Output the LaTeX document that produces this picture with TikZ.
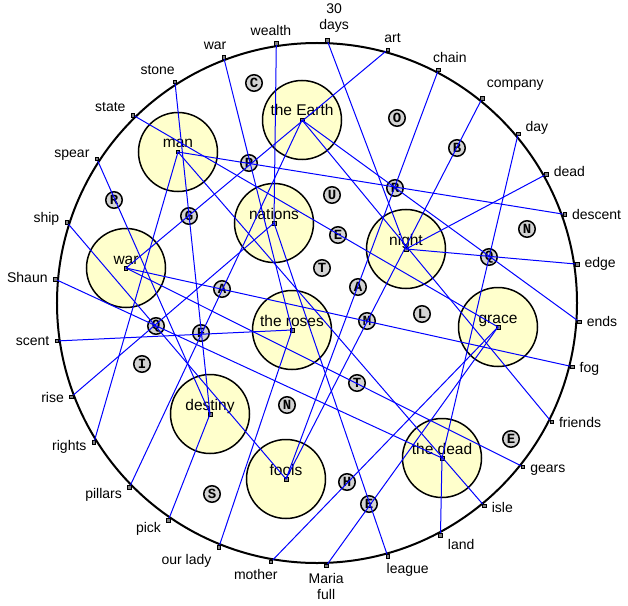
\documentclass[tikz,border=0pt]{standalone}
\usepackage{fontspec}
\setmainfont{Liberation Sans}
\newfontfamily\chipfont{Liberation Mono}
\usetikzlibrary{positioning}

\definecolor{paleyellow}{RGB}{255,255,204}
\definecolor{chipgray}{RGB}{211,211,211}

\begin{document}
\begin{tikzpicture}[
        x=1pt, y=1pt,
        rim/.style = {draw, black, circle, line width=2pt, minimum size=520pt, inner sep=0pt},
        topic/.style = {draw, black, fill=paleyellow, circle, line width=1.5pt, minimum size=79pt, inner sep=0pt},
        topictext/.style = {anchor=base, yshift=4pt, inner sep=0pt, font=\fontsize{15.5}{18}\selectfont},
        chip/.style = {draw, black, fill=chipgray, circle, line width=1.5pt, minimum size=16.5pt, inner sep=0pt, font=\chipfont\bfseries\fontsize{14}{14}\selectfont},
        pin/.style = {draw, black, fill=gray, line width=0.5pt, minimum size=3.5pt, inner sep=0pt},
        word/.style = {align=center, inner sep=1pt, outer sep=6.5pt, font=\fontsize{14}{16}\selectfont},
        link/.style = {blue, line width=1pt}
    ]

        \useasboundingbox (-317,-302) rectangle (311,303);

        \node[rim] (hub) at (0,0) {};

        \node[pin] (o-wealth) at (98.9:263) {};
        \node[pin] (o-war) at (110.8:263) {};
        \node[pin] (o-stone) at (122.7:263) {};
        \node[pin] (o-state) at (134.4:263) {};
        \node[pin] (o-spear) at (146.8:263) {};
        \node[pin] (o-ship) at (162.1:263) {};
        \node[pin] (o-shaun) at (174.8:263) {};
        \node[pin] (o-scent) at (188.3:263) {};
        \node[pin] (o-rise) at (200.9:263) {};
        \node[pin] (o-rights) at (212.0:263) {};
        \node[pin] (o-pillars) at (224.5:263) {};
        \node[pin] (o-pick) at (235.6:263) {};
        \node[pin] (o-ourlady) at (248.1:263) {};
        \node[pin] (o-mother) at (259.9:263) {};
        \node[pin] (o-maria) at (272.0:263) {};
        \node[pin] (o-league) at (285.6:263) {};
        \node[pin] (o-land) at (298.0:263) {};
        \node[pin] (o-isle) at (309.5:263) {};
        \node[pin] (o-gears) at (321.5:263) {};
        \node[pin] (o-friends) at (333.1:263) {};
        \node[pin] (o-fog) at (346.0:263) {};
        \node[pin] (o-ends) at (355.9:263) {};
        \node[pin] (o-edge) at (8.5:263) {};
        \node[pin] (o-descent) at (19.7:263) {};
        \node[pin] (o-dead) at (29.3:263) {};
        \node[pin] (o-day) at (40.1:263) {};
        \node[pin] (o-company) at (51.1:263) {};
        \node[pin] (o-chain) at (62.5:263) {};
        \node[pin] (o-art) at (74.4:263) {};
        \node[pin] (o-days) at (87.8:263) {};

        \node[word, anchor=293] (w-wealth) at (o-wealth.center) {wealth};
        \node[word, anchor=307] (w-war) at (o-war.center) {war};
        \node[word, anchor=325] (w-stone) at (o-stone.center) {stone};
        \node[word, anchor=340] (w-state) at (o-state.center) {state};
        \node[word, anchor=351] (w-spear) at (o-spear.center) {spear};
        \node[word, anchor=352] (w-ship) at (o-ship.center) {ship};
        \node[word, anchor=356] (w-shaun) at (o-shaun.center) {Shaun};
        \node[word, anchor=0] (w-scent) at (o-scent.center) {scent};
        \node[word, anchor=3] (w-rise) at (o-rise.center) {rise};
        \node[word, anchor=10] (w-rights) at (o-rights.center) {rights};
        \node[word, anchor=17] (w-pillars) at (o-pillars.center) {pillars};
        \node[word, anchor=25] (w-pick) at (o-pick.center) {pick};
        \node[word, anchor=23] (w-ourlady) at (o-ourlady.center) {our lady};
        \node[word, anchor=40] (w-mother) at (o-mother.center) {mother};
        \node[word, anchor=north] (w-maria) at (o-maria.center) {Maria\\full};
        \node[word, anchor=145] (w-league) at (o-league.center) {league};
        \node[word, anchor=157] (w-land) at (o-land.center) {land};
        \node[word, anchor=174] (w-isle) at (o-isle.center) {isle};
        \node[word, anchor=173] (w-gears) at (o-gears.center) {gears};
        \node[word, anchor=178] (w-friends) at (o-friends.center) {friends};
        \node[word, anchor=173] (w-fog) at (o-fog.center) {fog};
        \node[word, anchor=180] (w-ends) at (o-ends.center) {ends};
        \node[word, anchor=180] (w-edge) at (o-edge.center) {edge};
        \node[word, anchor=180] (w-descent) at (o-descent.center) {descent};
        \node[word, anchor=188] (w-dead) at (o-dead.center) {dead};
        \node[word, anchor=197] (w-day) at (o-day.center) {day};
        \node[word, anchor=201] (w-company) at (o-company.center) {company};
        \node[word, anchor=228] (w-chain) at (o-chain.center) {chain};
        \node[word, anchor=248] (w-art) at (o-art.center) {art};
        \node[word, anchor=252] (w-days) at (o-days.center) {30\\days};

        \node[topic] (earth) at (-15,183) {};
        \node[topic] (man) at (-139,151) {};
        \node[topic] (nations) at (-43,80) {};
        \node[topic] (war) at (-191,35) {};
        \node[topic] (roses) at (-25,-27) {};
        \node[topic] (night) at (89,54) {};
        \node[topic] (grace) at (181,-24) {};
        \node[topic] (destiny) at (-107,-111) {};
        \node[topic] (fools) at (-31,-176) {};
        \node[topic] (dead) at (125,-155) {};

        \node[topictext] (earth-text) at (earth.center) {the Earth};
        \node[topictext] (man-text) at (man.center) {man};
        \node[topictext] (nations-text) at (nations.center) {nations};
        \node[topictext] (war-text) at (war.center) {war};
        \node[topictext] (roses-text) at (roses.center) {the roses};
        \node[topictext] (night-text) at (night.center) {night};
        \node[topictext] (grace-text) at (grace.center) {grace};
        \node[topictext] (destiny-text) at (destiny.center) {destiny};
        \node[topictext] (fools-text) at (fools.center) {fools};
        \node[topictext] (dead-text) at (dead.center) {the dead};

        \node[pin] (earth-dot) at (earth.center) {};
        \node[pin] (man-dot) at (man.center) {};
        \node[pin] (nations-dot) at (nations.center) {};
        \node[pin] (war-dot) at (war.center) {};
        \node[pin] (roses-dot) at (roses.center) {};
        \node[pin] (night-dot) at (night.center) {};
        \node[pin] (grace-dot) at (grace.center) {};
        \node[pin] (destiny-dot) at (destiny.center) {};
        \node[pin] (fools-dot) at (fools.center) {};
        \node[pin] (dead-dot) at (dead.center) {};

        \node[chip] (chip-C) at (-63,220) {C};
        \node[chip] (chip-O) at (80,185) {O};
        \node[chip] (chip-B) at (140,155) {B};
        \node[chip] (chip-P) at (-68,140) {P};
        \node[chip] (chip-R1) at (78,115) {R};
        \node[chip] (chip-U) at (15,108) {U};
        \node[chip] (chip-R2) at (-203,103) {R};
        \node[chip] (chip-G) at (-128,87) {G};
        \node[chip] (chip-E1) at (21,68) {E};
        \node[chip] (chip-N1) at (210,74) {N};
        \node[chip] (chip-Q1) at (172,46) {Q};
        \node[chip] (chip-T1) at (5,35) {T};
        \node[chip] (chip-A1) at (41,16) {A};
        \node[chip] (chip-A2) at (-95,14) {A};
        \node[chip] (chip-L) at (105,-11) {L};
        \node[chip] (chip-M) at (50,-18) {M};
        \node[chip] (chip-Q2) at (-161,-23) {Q};
        \node[chip] (chip-F) at (-116,-30) {F};
        \node[chip] (chip-I) at (-175,-61) {I};
        \node[chip] (chip-T2) at (40,-80) {T};
        \node[chip] (chip-N2) at (-30,-102) {N};
        \node[chip] (chip-E2) at (194,-136) {E};
        \node[chip] (chip-H) at (30,-179) {H};
        \node[chip] (chip-S) at (-105,-191) {S};
        \node[chip] (chip-E3) at (52,-201) {E};

        \draw[link] (o-wealth) -- (nations.center);
        \draw[link] (o-war) -- (roses.center);
        \draw[link] (o-stone) -- (destiny.center);
        \draw[link] (o-state) -- (grace.center);
        \draw[link] (o-spear) -- (destiny.center);
        \draw[link] (o-ship) -- (fools.center);
        \draw[link] (o-shaun) -- (dead.center);
        \draw[link] (o-scent) -- (roses.center);
        \draw[link] (o-rise) -- (nations.center);
        \draw[link] (o-rights) -- (man.center);
        \draw[link] (o-pillars) -- (earth.center);
        \draw[link] (o-pick) -- (destiny.center);
        \draw[link] (o-ourlady) -- (roses.center);
        \draw[link] (o-mother) -- (grace.center);
        \draw[link] (o-maria) -- (grace.center);
        \draw[link] (o-league) -- (nations.center);
        \draw[link] (o-land) -- (dead.center);
        \draw[link] (o-isle) -- (man.center);
        \draw[link] (o-gears) -- (war.center);
        \draw[link] (o-friends) -- (earth.center);
        \draw[link] (o-fog) -- (war.center);
        \draw[link] (o-ends) -- (earth.center);
        \draw[link] (o-edge) -- (night.center);
        \draw[link] (o-descent) -- (man.center);
        \draw[link] (o-dead) -- (night.center);
        \draw[link] (o-day) -- (dead.center);
        \draw[link] (o-company) -- (fools.center);
        \draw[link] (o-chain) -- (fools.center);
        \draw[link] (o-art) -- (war.center);
        \draw[link] (o-days) -- (night.center);

    \end{tikzpicture}
\end{document}
